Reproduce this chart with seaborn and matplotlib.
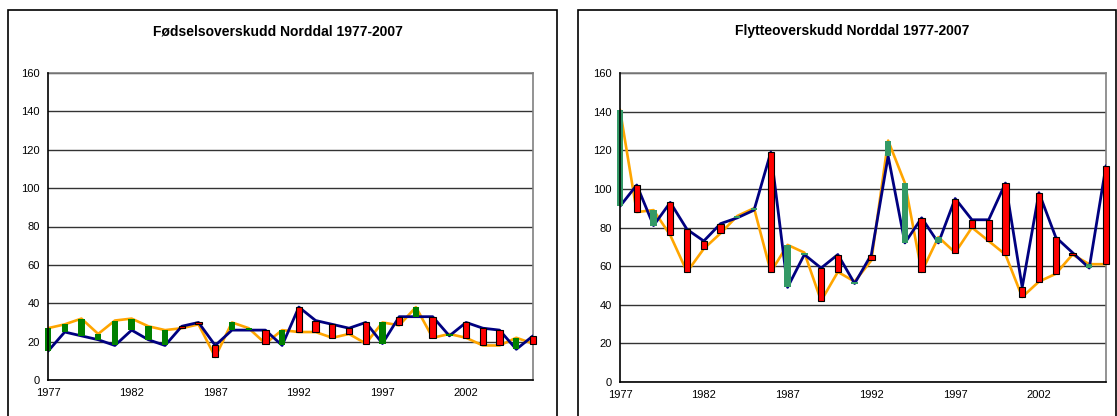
import matplotlib
matplotlib.use("Agg")
import matplotlib.pyplot as plt
import numpy as np
import pandas as pd
import seaborn as sns
from matplotlib.patches import Rectangle
from matplotlib.ticker import MultipleLocator

years = list(range(1977, 2007))
tick_years = [1977, 1982, 1987, 1992, 1997, 2002]

# Fødselsoverskudd: navy line (first series) and orange line (last series)
birth_navy = [15, 25, 23, 21, 18, 26, 21, 18, 28, 30, 18, 26, 26, 26, 18,
              38, 31, 29, 27, 30, 19, 33, 33, 33, 23, 30, 27, 26, 16, 23]
birth_orange = [27, 29, 32, 24, 31, 32, 28, 26, 27, 29, 12, 30, 27, 19, 26,
                25, 25, 22, 24, 19, 30, 28.5, 38, 22, 24, 22, 18, 18, 22, 19]

# Flytteoverskudd
move_navy = [91, 102, 81, 93, 79, 73, 82, 85, 89, 119, 49, 66, 59, 66, 51,
             66, 117, 72, 85, 72, 95, 84, 84, 103, 49, 98, 75, 67, 59, 112]
move_orange = [141, 88, 89, 76, 57, 69, 77, 86, 90, 57, 71, 67, 42, 57, 52,
               63, 125, 103, 57, 75, 67, 80, 73, 66, 44, 52, 56, 66, 61, 61]

titles = ["Fødselsoverskudd Norddal 1977-2007", "Flytteoverskudd Norddal 1977-2007"]
up_colors = ["#008000", "#339966"]

sns.set_style("white")
plt.rcParams["font.family"] = ["Liberation Sans", "DejaVu Sans"]

fig = plt.figure(figsize=(11.17, 4.16), dpi=100)

# chart-area frames (Excel style), bottom edge runs off the picture
for x0, x1 in [(8, 557), (578, 1116)]:
    fig.patches.append(Rectangle((x0 / 1117, -0.1), (x1 - x0) / 1117, 1.1 - 10 / 416,
                                 transform=fig.transFigure, fill=False,
                                 edgecolor="black", linewidth=1.2))

axes_pos = [[48 / 1117, 1 - 380 / 416, 485 / 1117, 307 / 416],
            [620 / 1117, 1 - 382 / 416, 486 / 1117, 309 / 416]]
title_x = [278 / 1117, 852 / 1117]
series = [(birth_navy, birth_orange), (move_navy, move_orange)]

for i, (navy, orange) in enumerate(series):
    ax = fig.add_axes(axes_pos[i])
    df = pd.DataFrame({"year": years, "navy": navy, "orange": orange})

    sns.lineplot(data=df, x="year", y="orange", color="#FFA500", linewidth=1.9, ax=ax, zorder=3)
    sns.lineplot(data=df, x="year", y="navy", color="#000080", linewidth=2.0, ax=ax, zorder=4)

    low = np.minimum(df["navy"], df["orange"])
    high = np.maximum(df["navy"], df["orange"])
    up = df["orange"] >= df["navy"]
    ax.bar(df["year"][up], (high - low)[up], bottom=low[up], width=0.38,
           color=up_colors[i], linewidth=0, zorder=5, clip_on=False)
    ax.bar(df["year"][~up], (high - low)[~up], bottom=low[~up], width=0.38,
           color="#FF0000", edgecolor="black", linewidth=0.8, zorder=5, clip_on=False)

    ax.set_xlim(1977, 2006)
    ax.set_ylim(0, 160)
    ax.set_yticks(range(0, 161, 20))
    ax.set_xticks(tick_years)
    ax.xaxis.set_minor_locator(MultipleLocator(1))
    ax.yaxis.grid(True, color="#333333", linewidth=1)
    ax.set_axisbelow(True)
    ax.set_xlabel("")
    ax.set_ylabel("")
    ax.tick_params(axis="both", which="major", direction="out", length=4, width=1,
                   labelsize=8, colors="black", labelcolor="black", pad=2)
    ax.tick_params(axis="x", which="minor", direction="out", length=4, width=1, colors="black")
    for side in ["left", "bottom"]:
        ax.spines[side].set_color("black")
        ax.spines[side].set_linewidth(1.2)
    for side in ["top", "right"]:
        ax.spines[side].set_color("#808080")
        ax.spines[side].set_linewidth(1.2)
    ax.spines["left"].set_zorder(6)

    fig.text(title_x[i], 1 - 31 / 416, titles[i], ha="center", va="center",
             fontsize=10, fontweight="bold", color="black")

fig.savefig("out.png", dpi=100)
plt.close(fig)
